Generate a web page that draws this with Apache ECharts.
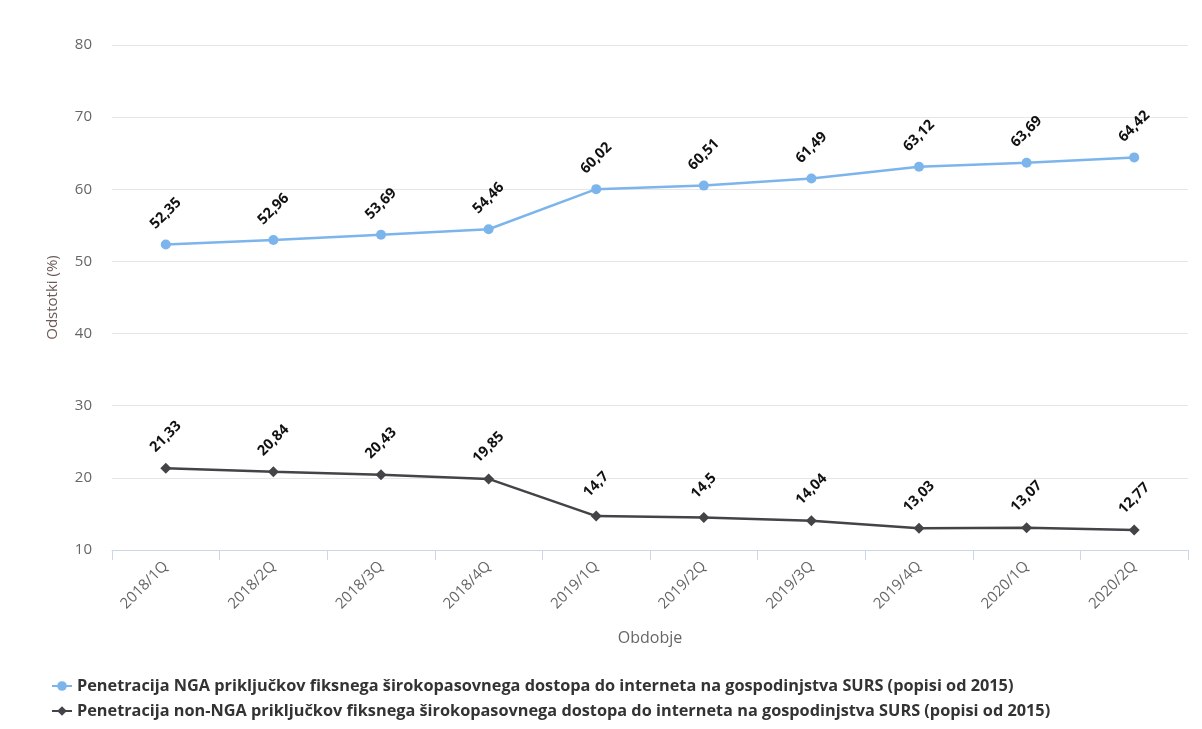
<!DOCTYPE html>
<html lang="sl">
<head>
<meta charset="UTF-8">
<title>Penetracija NGA</title>
<style>
    html, body { margin: 0; padding: 0; background: #fff; }
    #chart { width: 1202px; height: 729px; }
</style>
</head>
<body>
<div id="chart"></div>
<script src="https://cdn.jsdelivr.net/npm/echarts@6/dist/echarts.min.js"></script>
<script>
// obdobja
var periods = ['2018/1Q', '2018/2Q', '2018/3Q', '2018/4Q', '2019/1Q', '2019/2Q', '2019/3Q', '2019/4Q', '2020/1Q', '2020/2Q'];
// NGA penetracija
var ngaValues = [52.35, 52.96, 53.69, 54.46, 60.02, 60.51, 61.49, 63.12, 63.69, 64.42];
// non-NGA penetracija
var nonNgaValues = [21.33, 20.84, 20.43, 19.85, 14.7, 14.5, 14.04, 13.03, 13.07, 12.77];

var ngaName = 'Penetracija NGA priključkov fiksnega širokopasovnega dostopa do interneta na gospodinjstva SURS (popisi od 2015)';
var nonNgaName = 'Penetracija non-NGA priključkov fiksnega širokopasovnega dostopa do interneta na gospodinjstva SURS (popisi od 2015)';

var font = '"Open Sans", "DejaVu Sans", sans-serif';

function fmt(v) {
    return String(v).replace('.', ',');
}

var chart = echarts.init(document.getElementById('chart'));

var labelStyle = {
    show: true,
    position: 'top',
    distance: 26,
    rotate: 45,
    align: 'center',
    verticalAlign: 'middle',
    color: '#111',
    fontFamily: font,
    fontSize: 14.5,
    fontWeight: 'bold',
    formatter: function (p) { return fmt(p.value); }
};

var option = {
    animation: false,
    textStyle: { fontFamily: font },
    grid: { left: 112, right: 14, top: 45, bottom: 179, containLabel: false },
    legend: {
        orient: 'vertical',
        left: 46,
        top: 673,
        itemGap: 9,
        itemWidth: 20,
        itemHeight: 12,
        textStyle: { color: '#333', fontSize: 16.3, fontWeight: 'bold', fontFamily: font },
        data: [ngaName, nonNgaName]
    },
    xAxis: {
        type: 'category',
        data: periods,
        boundaryGap: true,
        name: 'Obdobje',
        nameLocation: 'middle',
        nameGap: 80,
        nameTextStyle: { color: '#666', fontSize: 16, fontFamily: font },
        axisLine: { lineStyle: { color: '#ccd6eb' } },
        axisTick: { show: true, alignWithLabel: false, length: 10, lineStyle: { color: '#ccd6eb' } },
        axisLabel: { rotate: 45, color: '#666', fontSize: 15, margin: 14, interval: 0 }
    },
    yAxis: {
        type: 'value',
        min: 10,
        max: 80,
        interval: 10,
        name: 'Odstotki (%)',
        nameLocation: 'middle',
        nameGap: 52,
        nameTextStyle: { color: '#6b5a55', fontSize: 15, fontFamily: font },
        axisLine: { show: false },
        axisTick: { show: false },
        axisLabel: { color: '#666', fontSize: 15, margin: 20 },
        splitLine: { lineStyle: { color: '#e6e6e6' } }
    },
    series: [
        {
            name: ngaName,
            type: 'line',
            data: ngaValues,
            color: '#7cb5ec',
            symbol: 'circle',
            symbolSize: 10,
            lineStyle: { width: 2.5 },
            label: labelStyle
        },
        {
            name: nonNgaName,
            type: 'line',
            data: nonNgaValues,
            color: '#434348',
            symbol: 'diamond',
            symbolSize: 11,
            lineStyle: { width: 2.5 },
            label: labelStyle
        }
    ]
};

chart.setOption(option);
</script>
</body>
</html>
